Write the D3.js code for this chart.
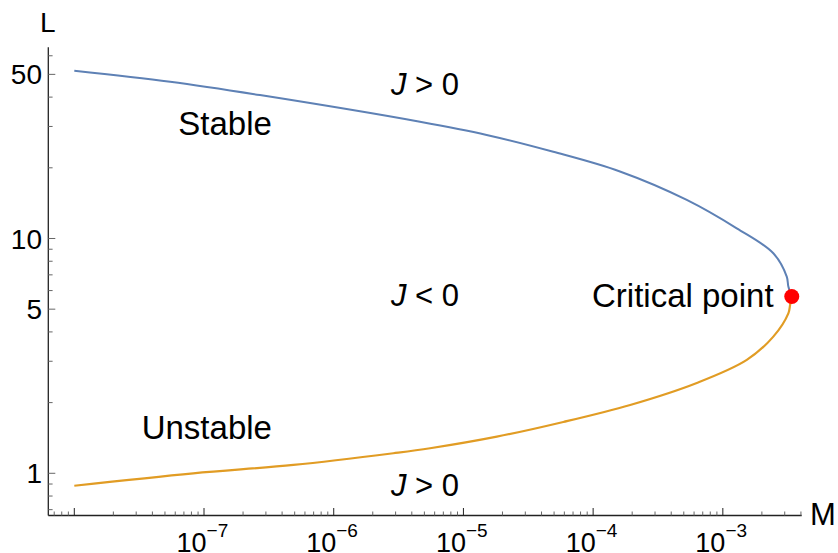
<!DOCTYPE html>
<html>
<head>
<meta charset="utf-8">
<script src="https://cdn.jsdelivr.net/npm/d3@7"></script>
<style>
  body { margin: 0; background: #fff; }
  svg { display: block; font-family: "Liberation Sans", Arial, sans-serif; }
</style>
</head>
<body>
<div id="chart"></div>
<script>
// === DATA ===
// upper (stable) branch
const stableM = [1e-8, 5.48e-8, 2.70e-7, 4.62e-6, 1.51e-5, 4.93e-5, 1.61e-4, 5.27e-4, 1.28e-3, 2.45e-3, 3.11e-3, 3.20e-3, 3.40e-3];
const stableL = [51.8, 46.5, 40.8, 31.4, 27.6, 23.4, 19.3, 14.6, 11.05, 8.65, 6.88, 6.24, 5.66];
// lower (unstable) branch
const unstableM = [1e-8, 8.26e-8, 4.89e-7, 2.88e-6, 5.53e-6, 1.81e-5, 5.89e-5, 1.93e-4, 6.30e-4, 1.53e-3, 2.45e-3, 3.20e-3, 3.30e-3, 3.40e-3];
const unstableL = [0.885, 1.0, 1.085, 1.217, 1.278, 1.432, 1.654, 1.954, 2.425, 3.04, 3.82, 4.80, 5.21, 5.66];
const criticalPoint = [3.40e-3, 5.66];

const xMajorTicks = [1e-8, 1e-7, 1e-6, 1e-5, 1e-4, 1e-3];
const xTickLabels = ["", "\u22127", "\u22126", "\u22125", "\u22124", "\u22123"]; // exponents
const yMajorTicks = [1, 5, 10, 50];
const yTickLabels = ["1", "5", "10", "50"];

const width = 838, height = 553;
const svg = d3.select("#chart").append("svg")
    .attr("width", width)
    .attr("height", height);

// === SCALES ===
const x = d3.scaleLog()
    .domain([Math.pow(10, -8.2005), Math.pow(10, -2.392)])
    .range([48.3, 801.7]);
const y = d3.scaleLog()
    .domain([0.661, 65.2])
    .range([515.5, 47.3]);

const x0 = x.range()[0], y0 = y.range()[0];

// === AXES ===
const axisColor = "#222";
const tickColor = "#666";
const isMajorX = d => xMajorTicks.some(t => Math.abs(t - d) / t < 1e-6);

svg.append("line")
    .attr("x1", x0).attr("x2", x.range()[1])
    .attr("y1", y0).attr("y2", y0)
    .attr("stroke", axisColor).attr("stroke-width", 1.3);
svg.append("line")
    .attr("x1", x0).attr("x2", x0)
    .attr("y1", y0).attr("y2", y.range()[1])
    .attr("stroke", axisColor).attr("stroke-width", 1.3);

// x ticks (inside)
svg.selectAll(".xtick").data(x.ticks()).enter().append("line")
    .attr("x1", d => x(d)).attr("x2", d => x(d))
    .attr("y1", y0)
    .attr("y2", d => isMajorX(d) ? y0 - 7.5 : y0 - 4)
    .attr("stroke", d => isMajorX(d) ? axisColor : tickColor)
    .attr("stroke-width", 1);

// y ticks
svg.selectAll(".ytick").data(y.ticks()).enter().append("line")
    .attr("y1", d => y(d)).attr("y2", d => y(d))
    .attr("x1", x0)
    .attr("x2", d => yMajorTicks.includes(d) ? x0 + 7 : x0 + 4.3)
    .attr("stroke", tickColor)
    .attr("stroke-width", 1);

// x tick labels: 10^n
xMajorTicks.forEach((t, i) => {
    if (!xTickLabels[i]) return;
    const lbl = svg.append("text")
        .attr("x", x(t) - 27.5)
        .attr("y", 552)
        .attr("font-size", 27)
        .attr("fill", "#000");
    lbl.append("tspan").text("10");
    lbl.append("tspan")
        .attr("font-size", 19)
        .attr("dy", -15)
        .text(xTickLabels[i]);
});

// y tick labels
yMajorTicks.forEach((t, i) => {
    svg.append("text")
        .attr("x", 42)
        .attr("y", y(t))
        .attr("dy", "0.36em")
        .attr("text-anchor", "end")
        .attr("font-size", 28)
        .attr("fill", "#000")
        .text(yTickLabels[i]);
});

// axis names
svg.append("text").attr("x", 40).attr("y", 31.7)
    .attr("font-size", 28).text("L");
svg.append("text").attr("x", 810).attr("y", 525)
    .attr("font-size", 31).text("M");

// === CURVES ===
const line = d3.line()
    .x(d => x(d[0]))
    .y(d => y(d[1]))
    .curve(d3.curveCatmullRom.alpha(0.5));

svg.append("path")
    .datum(stableM.map((m, i) => [m, stableL[i]]))
    .attr("d", line)
    .attr("fill", "none")
    .attr("stroke", "#5E81B5")
    .attr("stroke-width", 2);

svg.append("path")
    .datum(unstableM.map((m, i) => [m, unstableL[i]]))
    .attr("d", line)
    .attr("fill", "none")
    .attr("stroke", "#E19C24")
    .attr("stroke-width", 2.2);

svg.append("circle")
    .attr("cx", x(criticalPoint[0]))
    .attr("cy", y(criticalPoint[1]))
    .attr("r", 7.5)
    .attr("fill", "#FF0000");

// === LABELS ===
svg.append("text")
    .attr("x", 178.3).attr("y", 135)
    .attr("font-size", 33).text("Stable");
svg.append("text")
    .attr("x", 141.7).attr("y", 439)
    .attr("font-size", 33).text("Unstable");
svg.append("text")
    .attr("x", 592).attr("y", 306.5)
    .attr("font-size", 33).text("Critical point");

const jLabels = [[">", 95], ["<", 306], [">", 496]];
jLabels.forEach(([op, yy]) => {
    const t = svg.append("text")
        .attr("x", 391).attr("y", yy)
        .attr("font-size", 31);
    t.append("tspan").attr("font-style", "italic").text("J");
    t.append("tspan").text(" " + op + " 0");
});
</script>
</body>
</html>
